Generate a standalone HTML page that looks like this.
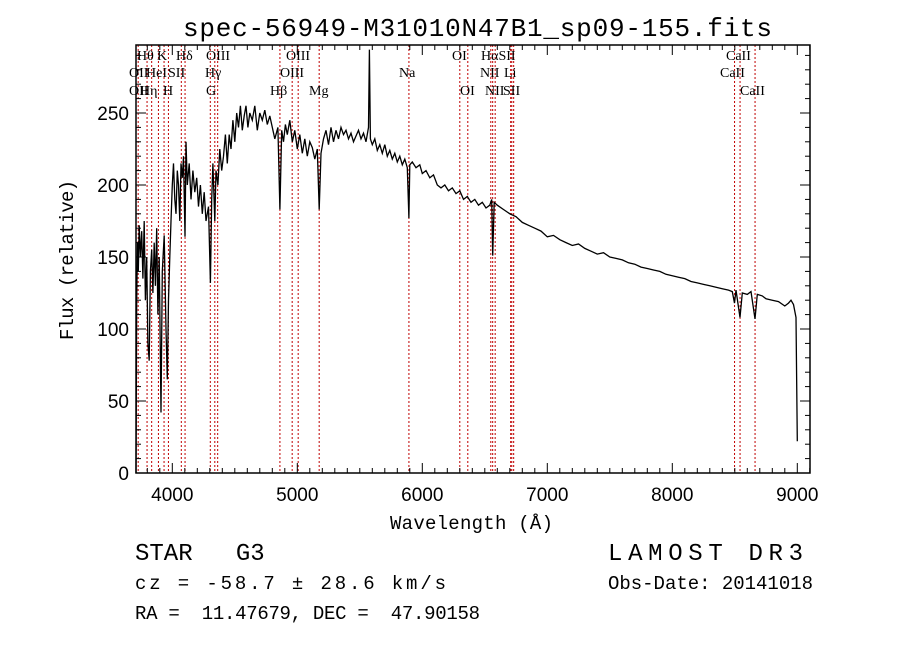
<!DOCTYPE html>
<html><head><meta charset="utf-8"><style>
html,body{margin:0;padding:0;background:#fff;}
svg{display:block;}
text{font-family:"Liberation Sans",sans-serif;fill:#000;}
.m{font-family:"Liberation Mono",monospace;}
.s{font-family:"Liberation Serif",serif;font-size:14px;}
</style></head><body>
<svg id="c" width="900" height="649" viewBox="0 0 900 649">
<text class="m" x="183" y="36" font-size="26" textLength="589">spec-56949-M31010N47B1_sp09-155.fits</text>
<g id="lines"></g>
<g id="spec"></g>
<g id="axes"></g>
<text x="390" y="529" font-size="19" class="m" textLength="163">Wavelength (Å)</text>
<text transform="translate(73,340) rotate(-90)" font-size="19" class="m" textLength="160">Flux (relative)</text>
<text class="m" x="135" y="560" font-size="24" xml:space="preserve">STAR   G3</text>
<text class="m" x="608" y="560" font-size="24" textLength="195">LAMOST DR3</text>
<text class="m" x="135" y="589" font-size="19" textLength="311">cz = -58.7 ± 28.6 km/s</text>
<text class="m" x="608" y="589" font-size="19" textLength="205">Obs-Date: 20141018</text>
<text class="m" x="135" y="619" font-size="19" textLength="345" xml:space="preserve">RA =  11.47679, DEC =  47.90158</text>
</svg>
<script>
const wl=[3710,3715,3722,3728,3735,3745,3755,3765,3775,3785,3795,3805,3815,3825,3835,3845,3855,3865,3875,3885,3895,3910,3920,3935,3950,3960,3970,3980,3990,4000,4010,4020,4030,4040,4050,4060,4070,4080,4090,4102,4110,4120,4135,4150,4165,4180,4195,4210,4225,4240,4255,4270,4290,4305,4315,4325,4340,4350,4365,4380,4395,4410,4425,4440,4455,4470,4485,4500,4515,4530,4545,4560,4575,4590,4605,4620,4640,4660,4680,4700,4720,4740,4760,4780,4800,4820,4845,4861,4875,4890,4905,4920,4940,4960,4980,5000,5020,5040,5060,5080,5100,5120,5140,5160,5175,5190,5210,5230,5250,5270,5290,5310,5330,5350,5370,5390,5410,5430,5450,5470,5490,5510,5530,5550,5570,5577,5585,5600,5620,5640,5660,5680,5700,5720,5740,5760,5780,5800,5820,5840,5860,5880,5893,5900,5920,5950,5980,6000,6030,6060,6090,6120,6150,6180,6210,6240,6270,6300,6330,6360,6390,6420,6450,6480,6510,6540,6555,6563,6575,6600,6650,6700,6750,6800,6850,6900,6950,7000,7050,7100,7150,7200,7250,7300,7350,7400,7450,7500,7550,7600,7650,7700,7750,7800,7850,7900,7950,8000,8050,8100,8150,8200,8250,8300,8350,8400,8450,8480,8498,8510,8542,8560,8600,8630,8662,8680,8720,8750,8800,8850,8900,8930,8950,8970,8990,9000];
const flux=[0,120,160,140,172,150,168,135,175,120,150,90,78,140,155,125,160,130,170,110,150,42,140,165,100,65,120,150,175,200,215,190,180,210,200,175,215,205,220,164,230,200,215,190,210,195,205,185,200,180,195,175,185,132,190,215,175,210,200,225,210,220,235,215,235,225,245,230,250,240,255,238,248,255,240,250,245,255,238,250,245,252,242,248,240,232,240,183,238,230,242,235,245,230,238,225,235,222,232,220,230,226,218,225,183,222,232,238,228,240,230,238,232,240,235,238,232,236,230,234,238,232,236,230,240,294,232,228,232,224,228,222,228,220,224,218,222,216,220,214,218,212,177,214,216,212,214,208,210,205,207,200,198,200,196,198,194,196,190,192,188,190,186,188,184,186,190,151,188,186,183,180,178,174,172,170,168,164,165,162,160,158,159,156,154,152,153,150,149,148,146,145,143,142,141,140,138,137,136,135,133,132,131,130,129,128,127,126,118,127,108,125,124,126,107,124,123,121,120,119,116,118,120,117,108,22];
const lineWl=[3727,3798,3835,3889,3934,3969,4072,4102,4304,4340,4363,4861,4959,5007,5175,5893,6300,6364,6548,6563,6583,6707,6716,6731,8498,8542,8662];
const xTicks=[4000,5000,6000,7000,8000,9000];
const yTicks=[0,50,100,150,200,250];
const labels=[["Hθ",137,60],["K",157,60],["Hδ",176,60],["OIII",206,60],["OIII",286,60],["OI",452,60],["HαSII",481,60],["CaII",726,60],
["OII",129,77],["HeI",146,77],["SII",168,77],["Hγ",205,77],["OIII",280,77],["Na",399,77],["NII",480,77],["Li",504,77],["CaII",720,77],
["OII",129,95],["Hη",140,95],["H",163,95],["G",206,95],["Hβ",270,95],["Mg",309,95],["OI",460,95],["NII",485,95],["SII",503,95],["CaII",740,95]];
const L=136,R=810,T=45,B=473;
const X=w=>797.3+(w-9000)*0.125;
const Y=f=>473-f*1.44;
const NS="http://www.w3.org/2000/svg";
function mk(t,p,a){const e=document.createElementNS(NS,t);for(const k in a)e.setAttribute(k,a[k]);p.appendChild(e);return e;}
const gl=document.getElementById('lines');
lineWl.forEach(w=>{const e=mk('line',gl,{x1:X(w),x2:X(w),y1:T,y2:B,stroke:'#c00000','stroke-width':1,'stroke-dasharray':'2,2'});

});
labels.forEach(l=>{const e=mk('text',gl,{x:l[1],y:l[2],class:'s'});e.textContent=l[0];

});
const gs=document.getElementById('spec');
const p=mk('polyline',gs,{points:wl.map((w,i)=>X(w).toFixed(1)+','+Y(flux[i]).toFixed(1)).join(' '),fill:'none',stroke:'#000','stroke-width':1.3});


const ga=document.getElementById('axes');
const fr=mk('rect',ga,{x:L,y:T,width:R-L,height:B-T,fill:'none',stroke:'#000','stroke-width':1.5});


for(let w=3800;w<=9100;w+=100){const x=X(w);const len=(w%1000===0)?10:5;
mk('line',ga,{x1:x,x2:x,y1:B,y2:B-len,stroke:'#000'});mk('line',ga,{x1:x,x2:x,y1:T,y2:T+len,stroke:'#000'});}
for(let f=0;f<=290;f+=10){const y=Y(f);const len=(f%50===0)?10:5;
mk('line',ga,{x1:L,x2:L+len,y1:y,y2:y,stroke:'#000'});mk('line',ga,{x1:R,x2:R-len,y1:y,y2:y,stroke:'#000'});}
xTicks.forEach(w=>{const e=mk('text',ga,{x:X(w),y:501,'text-anchor':'middle','font-size':19});e.textContent=w;

});
yTicks.forEach(f=>{const e=mk('text',ga,{x:129,y:Y(f)+7,'text-anchor':'end','font-size':19});e.textContent=f;

});
</script>
</body></html>
